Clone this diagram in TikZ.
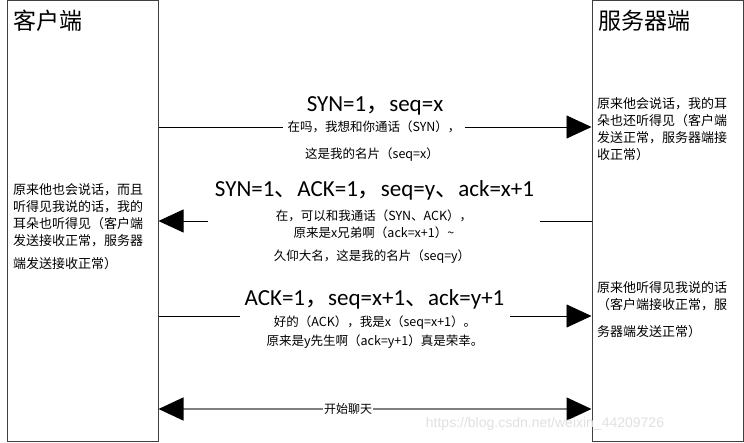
\documentclass[tikz,border=0pt]{standalone}
\usepackage{fontspec}
\setmainfont{Carlito}
\newfontfamily\cjk{Noto Sans CJK SC}
\newfontfamily\wmfont{Liberation Sans}
\usetikzlibrary{arrows.meta,positioning}

\begin{document}
\begin{tikzpicture}[x=1pt, y=-1pt,
  lifebox/.style={draw=black!75, line width=1pt, minimum width=151pt,
                  minimum height=440pt, inner sep=0pt},
  msg/.style={line width=0.8pt, -{Triangle[length=25pt,width=23pt]}},
  big/.style={font=\fontsize{23pt}{23pt}\selectfont, anchor=base},
  say/.style={font=\cjk\fontsize{12.5pt}{17pt}\selectfont, align=center},
  cover/.style={say, fill=white, minimum width=#1},
  note/.style={font=\cjk\fontsize{13pt}{17pt}\selectfont, align=left,
               anchor=base west, inner sep=0pt},
  title/.style={font=\cjk\fontsize{23pt}{23pt}\selectfont,
                anchor=base west, inner sep=0pt}]

  \useasboundingbox (0,0) rectangle (744,443);

  \node[lifebox] (client) at (82.5,221) {};
  \node[lifebox] (server) at (667.5,221) {};
  \node[title] (clientname) at (13,30) {客户端};
  \node[title] (servername) at (598,30) {服务器端};

  % first handshake
  \draw[msg] (client.east |- 0,127) -- (server.west |- 0,127);
  \node[big] (syn) at (375,112) {SYN=1{\cjk ，}seq=x};
  \node[cover=182pt] (syntext) at (374,127) {在吗，我想和你通话（SYN），};
  \node[say] (syncard) at (372,155) {这是我的名片（seq=x）};
  \node[note] (servernote1) at (597,160)
       {原来他会说话，我的耳\\朵也还听得见（客户端\\发送正常，服务器端接\\收正常）};

  % second handshake
  \draw[msg] (server.west |- 0,221) -- (client.east |- 0,221);
  \node[big] (synack) at (374.5,197) {SYN=1{\cjk 、}ACK=1{\cjk ，}seq=y{\cjk 、}ack=x+1};
  \node[cover=332pt] (synacktext) at (374,224.5)
       {在，可以和我通话（SYN、ACK），\\原来是x兄弟啊（ack=x+1）\textasciitilde};
  \node[say] (synackcard) at (372,257) {久仰大名，这是我的名片（seq=y）};
  \node[note] (clientnote) at (13,269)
       {原来他也会说话，而且\\听得见我说的话，我的\\耳朵也听得见（客户端\\发送接收正常，服务器\\[6pt]端发送接收正常）};

  % third handshake
  \draw[msg] (client.east |- 0,316) -- (server.west |- 0,316);
  \node[big] (ack) at (374.5,306) {ACK=1{\cjk ，}seq=x+1{\cjk 、}ack=y+1};
  \node[cover=270pt] (acktext) at (375,332.5)
       {好的（ACK），我是x（seq=x+1）。\\[2pt]原来是y先生啊（ack=y+1）真是荣幸。};
  \node[note] (servernote2) at (597,337)
       {原来他听得见我说的话\\（客户端接收正常，服\\[10pt]务器端发送正常）};

  % chat
  \draw[{Triangle[length=25pt,width=23pt,color=black]}-{Triangle[length=25pt,width=23pt,color=black]},
        draw=black!50, line width=1.5pt]
       (client.east |- 0,409) -- (server.west |- 0,409);
  \node[say, fill=white, inner sep=1pt, font=\cjk\fontsize{12pt}{14pt}\selectfont]
       (chat) at (348,409) {开始聊天};

  \node[text=black!12, font=\wmfont\fontsize{14pt}{14pt}\selectfont]
       (mark) at (545,424) {https://blog.csdn.net/weixin\_44209726};

\end{tikzpicture}
\end{document}
